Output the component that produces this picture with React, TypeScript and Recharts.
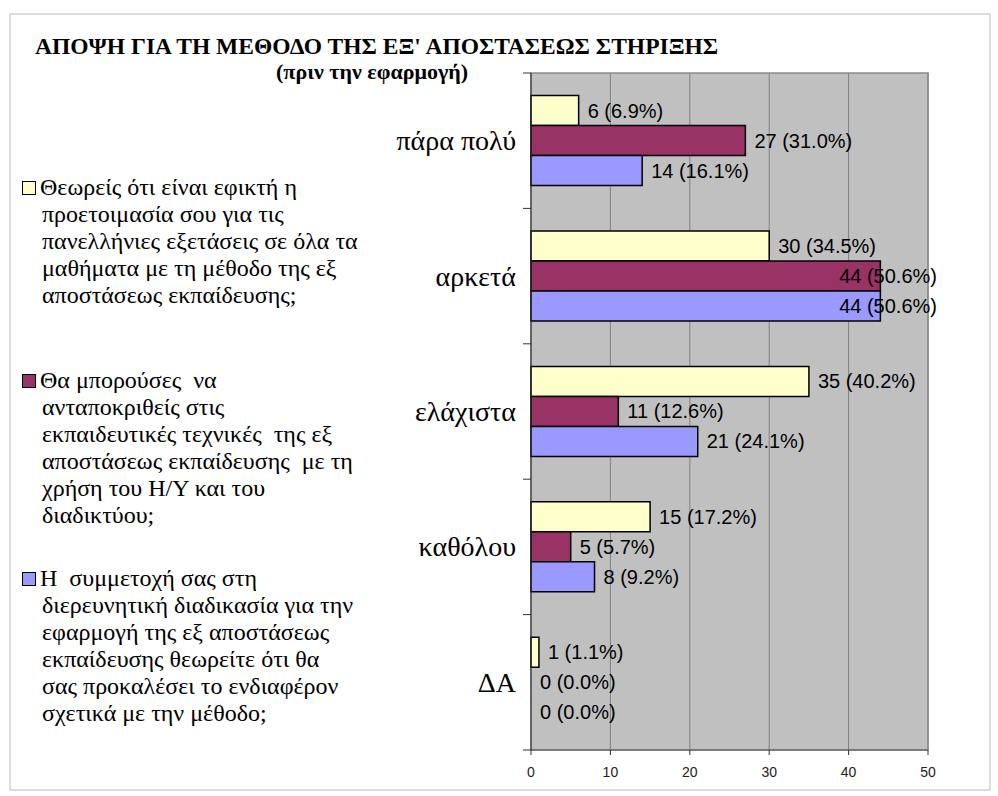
import React from "react";
import {
  BarChart,
  Bar,
  XAxis,
  YAxis,
  CartesianGrid,
  LabelList,
  ReferenceArea,
  Rectangle,
} from "recharts";

const CATEGORIES = ["πάρα πολύ", "αρκετά", "ελάχιστα", "καθόλου", "ΔΑ"];

const FEASIBLE = [6, 30, 35, 15, 1];
const FEASIBLE_PCT = ["6.9", "34.5", "40.2", "17.2", "1.1"];

const RESPOND = [27, 44, 11, 5, 0];
const RESPOND_PCT = ["31.0", "50.6", "12.6", "5.7", "0.0"];

const INTEREST = [14, 44, 21, 8, 0];
const INTEREST_PCT = ["16.1", "50.6", "24.1", "9.2", "0.0"];

const X_TICKS = [0, 10, 20, 30, 40, 50];

const SERIF = "'Liberation Serif', 'Times New Roman', serif";
const SANS = "'Liberation Sans', Arial, sans-serif";

const SERIES = [
  {
    key: "feasible",
    pct: FEASIBLE_PCT,
    color: "#FFFFCC",
    lines: [
      "Θεωρείς ότι είναι εφικτή η",
      "προετοιμασία σου για τις",
      "πανελλήνιες εξετάσεις σε όλα τα",
      "μαθήματα με τη μέθοδο της εξ",
      "αποστάσεως εκπαίδευσης;",
    ],
  },
  {
    key: "respond",
    pct: RESPOND_PCT,
    color: "#993366",
    lines: [
      "Θα μπορούσες  να",
      "ανταποκριθείς στις",
      "εκπαιδευτικές τεχνικές  της εξ",
      "αποστάσεως εκπαίδευσης  με τη",
      "χρήση του Η/Υ και του",
      "διαδικτύου;",
    ],
  },
  {
    key: "interest",
    pct: INTEREST_PCT,
    color: "#9999FF",
    lines: [
      "Η  συμμετοχή σας στη",
      "διερευνητική διαδικασία για την",
      "εφαρμογή της εξ αποστάσεως",
      "εκπαίδευσης θεωρείτε ότι θα",
      "σας προκαλέσει το ενδιαφέρον",
      "σχετικά με την μέθοδο;",
    ],
  },
];

const data = CATEGORIES.map((cat, i) => ({
  cat,
  feasible: FEASIBLE[i],
  respond: RESPOND[i],
  interest: INTEREST[i],
}));

const LEGEND_TOPS = [187, 380, 578];

const makeLabel = (pct: string[]) => (props: any) => {
  const { x, y, width, height, value, index } = props;
  const text = `${value} (${pct[index]}%)`;
  let tx = x + width + 9;
  let anchor: "start" | "end" = "start";
  if (tx + 100 > 940) {
    tx = 937;
    anchor = "end";
  }
  return (
    <text
      x={tx}
      y={y + height / 2}
      textAnchor={anchor}
      dominantBaseline="central"
      fontFamily={SANS}
      fontSize={20}
      fill="#000"
    >
      {text}
    </text>
  );
};

// hide zero bars but keep their labels
const makeShape = (key: string) => (props: any) => {
  if (!props.payload || props.payload[key] === 0) return <g />;
  return <Rectangle {...props} />;
};

const CategoryTick = (props: any) => {
  const { y, payload, index } = props;
  return (
    <g>
      <line x1={531} x2={523} y1={y - 67.7} y2={y - 67.7} stroke="#333" />
      {index === CATEGORIES.length - 1 && (
        <line x1={531} x2={523} y1={y + 67.7} y2={y + 67.7} stroke="#333" />
      )}
      <text
        x={516}
        y={y}
        textAnchor="end"
        dominantBaseline="central"
        fontFamily={SERIF}
        fontSize={28}
        fill="#000"
      >
        {payload.value}
      </text>
    </g>
  );
};

const LegendBlock = () => (
  <>
    {SERIES.map((s, i) => (
      <div
        key={s.key}
        style={{
          position: "absolute",
          left: 22,
          top: LEGEND_TOPS[i] - 13.5,
          fontFamily: SERIF,
          fontSize: 24,
          lineHeight: "27px",
          color: "#000",
          textAlign: "left",
        }}
      >
        <span
          style={{
            position: "absolute",
            left: 0,
            top: 7,
            width: 14,
            height: 14,
            boxSizing: "border-box",
            background: s.color,
            border: "1.5px solid #000",
          }}
        />
        {s.lines.map((l, j) => (
          <div key={j} style={{ paddingLeft: j === 0 ? 18 : 20, whiteSpace: "pre" }}>
            {l}
          </div>
        ))}
      </div>
    ))}
  </>
);

export default function App() {
  return (
    <div
      style={{
        position: "absolute",
        left: 0,
        top: 0,
        width: 998,
        height: 796,
        background: "#fff",
        overflow: "hidden",
      }}
    >
      <div
        style={{
          position: "absolute",
          left: 9,
          top: 13,
          width: 982,
          height: 778,
          border: "2px solid #dcdcdc",
          boxSizing: "border-box",
        }}
      />
      <div
        style={{
          position: "absolute",
          left: 35,
          top: 32,
          fontFamily: SERIF,
          fontWeight: "bold",
          fontSize: 23.5,
          lineHeight: "28px",
          whiteSpace: "nowrap",
          color: "#000",
        }}
      >
        ΑΠΟΨΗ ΓΙΑ ΤΗ ΜΕΘΟΔΟ ΤΗΣ ΕΞ' ΑΠΟΣΤΑΣΕΩΣ ΣΤΗΡΙΞΗΣ
      </div>
      <div
        style={{
          position: "absolute",
          left: 276,
          top: 59,
          fontFamily: SERIF,
          fontWeight: "bold",
          fontSize: 22,
          lineHeight: "26px",
          whiteSpace: "nowrap",
          color: "#000",
        }}
      >
        (πριν την εφαρμογή)
      </div>
      <LegendBlock />
      <div style={{ position: "absolute", left: 0, top: 0 }}>
        <BarChart
          width={998}
          height={796}
          data={data}
          layout="vertical"
          margin={{ top: 73, right: 70, bottom: 16, left: 411 }}
          barCategoryGap="16.7%"
          barGap={0}
        >
          <CartesianGrid
            horizontal={false}
            vertical={true}
            fill="#C0C0C0"
            fillOpacity={1}
            stroke="#808080"
          />
          <ReferenceArea x1={0} x2={50} fill="none" stroke="#8a8a8a" strokeWidth={1.5} />
          <XAxis
            type="number"
            domain={[0, 50]}
            ticks={X_TICKS}
            height={30}
            tickSize={5}
            tickMargin={12}
            axisLine={{ stroke: "#555" }}
            tickLine={{ stroke: "#333" }}
            tick={{ fill: "#222", fontSize: 14, fontFamily: SANS }}
          />
          <YAxis
            type="category"
            dataKey="cat"
            width={120}
            axisLine={{ stroke: "#333" }}
            tickLine={false}
            tick={<CategoryTick />}
          />
          {SERIES.map((s) => (
            <Bar
              key={s.key}
              dataKey={s.key}
              fill={s.color}
              stroke="#000"
              strokeWidth={1.5}
              minPointSize={0.01}
              shape={makeShape(s.key)}
              isAnimationActive={false}
            >
              <LabelList dataKey={s.key} content={makeLabel(s.pct)} />
            </Bar>
          ))}
        </BarChart>
      </div>
    </div>
  );
}
